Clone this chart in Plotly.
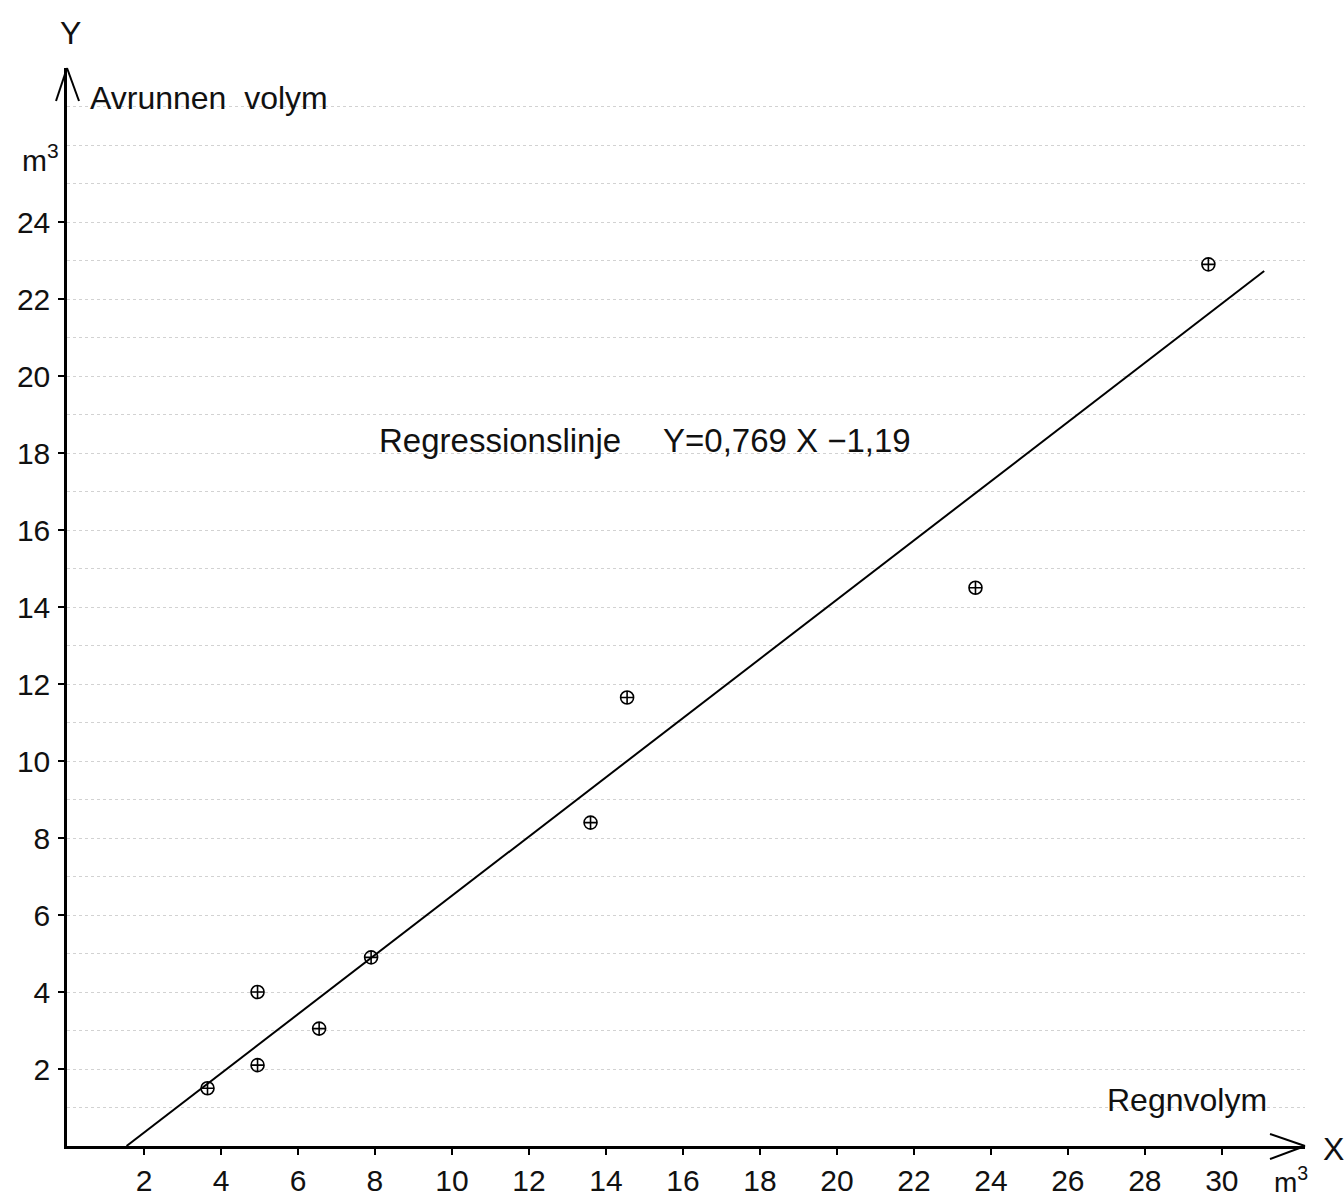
import plotly.graph_objects as go

# Measured rain volume (X) and runoff volume (Y), m³
rain_volume = [3.65, 4.95, 4.95, 6.55, 7.9, 13.6, 14.55, 23.6, 29.65]
runoff_volume = [1.5, 4.0, 2.1, 3.05, 4.9, 8.4, 11.65, 14.5, 22.9]

# Regression line Y = 0.769 X - 1.19
slope = 0.769
intercept = -1.19
line_x = [-intercept / slope, 31.1]
line_y = [slope * v + intercept for v in line_x]

x_ticks = list(range(2, 31, 2))
y_ticks = list(range(2, 25, 2))

X_MAX = 32.16
Y_MAX = 28.0
FONT = "Liberation Sans"
FS = 32
TICK_FS = 30

# plot area in pixels (for placing free text and arrow heads)
L, R, T, B = 67, 39, 68, 55
W, H = 1344, 1201
PW = W - L - R
PH = H - T - B


def px(xp):
    return (xp - L) / PW


def py(yp):
    return (H - B - yp) / PH


fig = go.Figure()

fig.add_trace(go.Scatter(
    x=line_x, y=line_y, mode="lines",
    line=dict(color="black", width=2),
    hoverinfo="skip", showlegend=False,
))

fig.add_trace(go.Scatter(
    x=rain_volume, y=runoff_volume, mode="markers",
    marker=dict(symbol="circle-cross-open", size=13, color="black",
                line=dict(width=1.6, color="black")),
    showlegend=False,
))

# arrow heads at the ends of both axes (open chevrons)
arrow = dict(type="line", xref="paper", yref="paper",
             line=dict(color="black", width=2))
shapes = [
    dict(arrow, x0=px(56), y0=py(101), x1=px(67), y1=py(68)),
    dict(arrow, x0=px(79), y0=py(101), x1=px(67), y1=py(68)),
    dict(arrow, x0=px(1270), y0=py(1134), x1=px(1305), y1=py(1146)),
    dict(arrow, x0=px(1270), y0=py(1159), x1=px(1305), y1=py(1146)),
]


def font(size):
    return dict(family=FONT, size=size, color="#111111")


annotations = [
    dict(text="Y", x=px(70), y=py(33), xanchor="center", yanchor="middle", font=font(FS)),
    dict(text="Avrunnen  volym", x=px(88), y=py(98), xanchor="left", yanchor="middle",
         font=font(FS)),
    dict(text="m<sup>3</sup>", x=px(20), y=py(158), xanchor="left", yanchor="middle",
         font=font(30)),
    dict(text="Regressionslinje", x=px(377), y=py(440), xanchor="left", yanchor="middle",
         font=font(33)),
    dict(text="Y=0,769 X −1,19", x=px(661), y=py(440), xanchor="left", yanchor="middle",
         font=font(33)),
    dict(text="Regnvolym", x=px(1105), y=py(1100), xanchor="left", yanchor="middle",
         font=font(FS)),
    dict(text="X", x=px(1333), y=py(1149), xanchor="center", yanchor="middle", font=font(FS)),
    dict(text="m<sup>3</sup>", x=px(1272), y=py(1180), xanchor="left", yanchor="middle",
         font=font(28)),
]
for a in annotations:
    a.update(xref="paper", yref="paper", showarrow=False)

fig.update_layout(
    width=W, height=H,
    margin=dict(l=L, r=R, t=T, b=B, autoexpand=False),
    paper_bgcolor="white", plot_bgcolor="white",
    font=font(TICK_FS),
    shapes=shapes,
    annotations=annotations,
    xaxis=dict(
        range=[0, X_MAX], tickvals=x_ticks, ticktext=[str(v) for v in x_ticks],
        showgrid=False, zeroline=False, automargin=False,
        showline=True, linecolor="black", linewidth=2.5,
        ticks="outside", ticklen=6, tickwidth=1.5, tickcolor="black",
        ticklabelstandoff=0, tickfont=font(TICK_FS),
    ),
    yaxis=dict(
        range=[0, Y_MAX], tickvals=y_ticks, ticktext=[str(v) for v in y_ticks],
        showgrid=True, gridcolor="#d2d2d2", griddash="dot", gridwidth=1,
        minor=dict(dtick=1, showgrid=True, gridcolor="#d2d2d2",
                   griddash="dot", gridwidth=1),
        zeroline=False, automargin=False,
        showline=True, linecolor="black", linewidth=2.5,
        ticks="outside", ticklen=6, tickwidth=1.5, tickcolor="black",
        ticklabelstandoff=2, tickfont=font(TICK_FS),
    ),
)

fig.write_html("out.html")
